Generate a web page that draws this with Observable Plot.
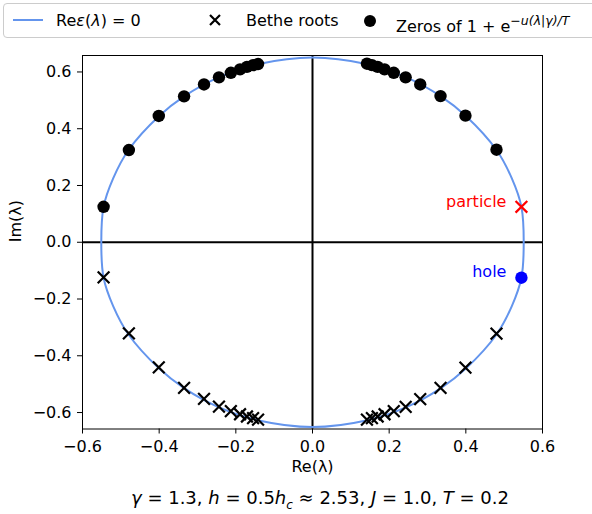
<!DOCTYPE html>
<html><head><meta charset="utf-8">
<script src="https://cdn.jsdelivr.net/npm/d3@7"></script>
<script src="https://cdn.jsdelivr.net/npm/@observablehq/plot@0.6"></script>
<style>
body{margin:0;background:#fff;font-family:"DejaVu Sans",sans-serif;}
#wrap{position:relative;width:592px;height:514px;overflow:hidden;}
#chart{position:absolute;left:0;top:0;}
#legend{position:absolute;left:3px;top:3px;width:640px;height:33px;border:1px solid #cccccc;border-radius:4px;background:#fff;font-size:16px;color:#000;}
#legend .it{position:absolute;top:0;height:33px;line-height:33px;white-space:nowrap;}
#legend svg{position:absolute;top:0;}
#caption{position:absolute;left:0;width:640px;top:487px;text-align:center;font-size:18px;color:#000;white-space:nowrap;}
</style></head>
<body>
<div id="wrap">
  <div id="chart"></div>
  <div id="legend">
    <svg style="left:8px" width="32" height="33"><line x1="1" x2="31" y1="16" y2="16" stroke="#6495ED" stroke-width="2"/></svg>
    <div class="it" style="left:52px">Re<i>ε</i>(<i>λ</i>) = 0</div>
    <svg style="left:201px" width="20" height="33"><path d="M5,11 L15,21 M15,11 L5,21" stroke="#000" stroke-width="2.2"/></svg>
    <div class="it" style="left:242px">Bethe roots</div>
    <svg style="left:356px" width="20" height="33"><circle cx="10" cy="17" r="6" fill="#000"/></svg>
    <div class="it" style="left:392px">Zeros of 1 + e<sup style="font-size:12.5px;font-style:italic;vertical-align:7px">−u(λ|γ)/T</sup></div>
  </div>
  <div id="caption"><i>γ</i> = 1.3, <i>h</i> = 0.5<i>h</i><sub style="font-size:12px"><i>c</i></sub> ≈ 2.53, <i>J</i> = 1.0, <i>T</i> = 0.2</div>
</div>
<script>
// Contour Re ε(λ) = 0
const curveRe = [0.551, 0.545, 0.520, 0.480, 0.400, 0.335, 0.245, 0.140, 0.000, -0.140, -0.245, -0.335, -0.400, -0.480, -0.520, -0.545, -0.551, -0.545, -0.520, -0.480, -0.400, -0.335, -0.245, -0.140, 0.000, 0.140, 0.245, 0.335, 0.400, 0.480, 0.520, 0.545];
const curveIm = [0.000, 0.125, 0.225, 0.325, 0.445, 0.514, 0.581, 0.628, 0.651, 0.628, 0.581, 0.514, 0.445, 0.325, 0.225, 0.125, 0.000, -0.125, -0.225, -0.325, -0.445, -0.514, -0.581, -0.628, -0.651, -0.628, -0.581, -0.514, -0.445, -0.325, -0.225, -0.125];

// Zeros of 1 + exp(-u/T) (upper half plane)
const zerosRe = [-0.545, -0.479, -0.401, -0.335, -0.283, -0.244, -0.213, -0.189, -0.171, -0.155, -0.142, 0.142, 0.155, 0.170, 0.188, 0.212, 0.243, 0.281, 0.334, 0.399, 0.480];
const zerosIm = [0.125, 0.325, 0.445, 0.514, 0.556, 0.581, 0.597, 0.609, 0.618, 0.624, 0.628, 0.629, 0.624, 0.618, 0.609, 0.597, 0.581, 0.556, 0.515, 0.446, 0.326];

// Bethe roots (lower half plane)
const betheRe = [-0.545, -0.479, -0.401, -0.335, -0.283, -0.244, -0.213, -0.189, -0.171, -0.155, -0.142, 0.142, 0.155, 0.170, 0.188, 0.212, 0.243, 0.281, 0.334, 0.399, 0.480];
const betheIm = [-0.124, -0.321, -0.441, -0.513, -0.552, -0.579, -0.595, -0.606, -0.614, -0.620, -0.625, -0.625, -0.620, -0.614, -0.606, -0.595, -0.580, -0.553, -0.513, -0.442, -0.322];

// Excitations
const particleRe = [0.545], particleIm = [0.125];
const holeRe = [0.545], holeIm = [-0.125];

const xTicks = [-0.6, -0.4, -0.2, 0.0, 0.2, 0.4, 0.6];
const yTicks = [-0.6, -0.4, -0.2, 0.0, 0.2, 0.4, 0.6];

const fmt = d => (d < -1e-9 ? "\u2212" : "") + Math.abs(d).toFixed(1);
const pts = (xs, ys) => xs.map((x, i) => ({x, y: ys[i]}));

const curve = pts(curveRe, curveIm);
const zeros = pts(zerosRe, zerosIm);
const bethe = pts(betheRe, betheIm);
const particle = pts(particleRe, particleIm);
const hole = pts(holeRe, holeIm);

const chart = Plot.plot({
  width: 592, height: 514,
  marginLeft: 82, marginRight: 50, marginTop: 55, marginBottom: 85.5,
  style: {fontFamily: "DejaVu Sans", fontSize: "16px", color: "black", background: "white"},
  x: {domain: [-0.6, 0.6]},
  y: {domain: [-0.658, 0.658]},
  marks: [
    Plot.ruleX([0], {stroke: "black", strokeWidth: 2}),
    Plot.ruleY([0], {stroke: "black", strokeWidth: 2}),
    Plot.line(curve, {x: "x", y: "y", curve: "catmull-rom-closed", stroke: "#6495ED", strokeWidth: 2}),
    Plot.dot(bethe, {x: "x", y: "y", symbol: "times", r: 5.4, stroke: "black", strokeWidth: 2.2}),
    Plot.dot(zeros, {x: "x", y: "y", r: 6.2, fill: "black", stroke: "none"}),
    Plot.dot(particle, {x: "x", y: "y", symbol: "times", r: 5.4, stroke: "red", strokeWidth: 2.2}),
    Plot.dot(hole, {x: "x", y: "y", r: 6.2, fill: "blue", stroke: "none"}),
    Plot.text(particle, {x: "x", y: "y", text: () => "particle", textAnchor: "end", dx: -15, dy: -5, fill: "red", fontSize: 16}),
    Plot.text(hole, {x: "x", y: "y", text: () => "hole", textAnchor: "end", dx: -15, dy: -6, fill: "blue", fontSize: 16}),
    Plot.frame({stroke: "black", strokeWidth: 1}),
    Plot.axisX({ticks: xTicks, tickFormat: fmt, tickSize: 5, tickPadding: 7, fontSize: 16, label: null}),
    Plot.axisY({ticks: yTicks, tickFormat: fmt, tickSize: 5, tickPadding: 6, fontSize: 16, label: null}),
    Plot.text(["Re(λ)"], {text: d => d, frameAnchor: "bottom", dy: 43, fontSize: 16}),
    Plot.text(["Im(λ)"], {text: d => d, frameAnchor: "left", rotate: -90, dx: -67, fontSize: 16})
  ]
});
document.getElementById("chart").appendChild(chart);
</script>
</body></html>
